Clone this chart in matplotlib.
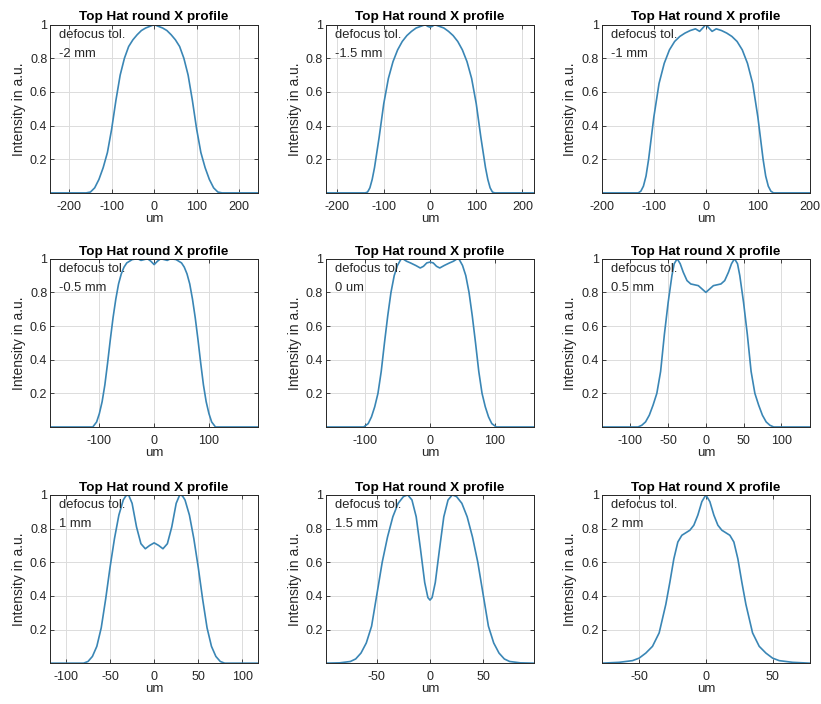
import numpy as np
import matplotlib.pyplot as plt

plt.rcParams['font.family'] = ['Liberation Sans', 'DejaVu Sans']
plt.rcParams['axes.unicode_minus'] = False

# profiles (um, normalised intensity)
x_m2 = [-245, -160, -150, -140, -130, -120, -110, -100, -90, -80, -70, -60, -50, -40, -30, -20, -10, -5, 0,
        5, 10, 20, 30, 40, 50, 60, 70, 80, 90, 100, 110, 120, 130, 140, 150, 160, 245]
y_m2 = [0, 0, 0.005, 0.03, 0.08, 0.15, 0.24, 0.38, 0.55, 0.70, 0.80, 0.87, 0.91, 0.94, 0.965, 0.98, 0.99, 0.995, 1.0,
        0.995, 0.99, 0.98, 0.965, 0.94, 0.91, 0.87, 0.80, 0.70, 0.55, 0.38, 0.24, 0.15, 0.08, 0.03, 0.005, 0, 0]

x_m15 = [-225, -140, -135, -130, -125, -120, -110, -100, -90, -80, -70, -60, -50, -40, -30, -20, -10, -5, 0,
         5, 10, 20, 30, 40, 50, 60, 70, 80, 90, 100, 110, 120, 125, 130, 135, 140, 225]
y_m15 = [0, 0, 0.005, 0.03, 0.08, 0.15, 0.33, 0.53, 0.68, 0.78, 0.85, 0.90, 0.935, 0.96, 0.98, 0.99, 1.0, 0.99, 0.985,
         0.99, 1.0, 0.99, 0.98, 0.96, 0.935, 0.90, 0.85, 0.78, 0.68, 0.53, 0.33, 0.15, 0.08, 0.03, 0.005, 0, 0]

x_m1 = [-200, -130, -125, -120, -115, -110, -100, -90, -80, -70, -60, -50, -40, -30, -20, -12, -6, 0,
        6, 12, 20, 30, 40, 50, 60, 70, 80, 90, 100, 110, 115, 120, 125, 130, 200]
y_m1 = [0, 0, 0.01, 0.04, 0.1, 0.2, 0.45, 0.65, 0.77, 0.85, 0.90, 0.93, 0.95, 0.965, 0.975, 0.96, 0.98, 1.0,
        0.98, 0.96, 0.975, 0.965, 0.95, 0.93, 0.90, 0.85, 0.77, 0.65, 0.45, 0.2, 0.1, 0.04, 0.01, 0, 0]

x_m05 = [-190, -112, -105, -100, -95, -90, -85, -80, -75, -70, -65, -60, -55, -50, -40, -30, -24, -18, -12, -6, 0,
         6, 12, 18, 24, 30, 40, 50, 55, 60, 65, 70, 75, 80, 85, 90, 95, 100, 105, 112, 190]
y_m05 = [0, 0, 0.03, 0.08, 0.15, 0.25, 0.38, 0.52, 0.65, 0.76, 0.85, 0.91, 0.95, 0.975, 0.995, 1.0, 0.99, 0.995, 1.0, 0.985, 0.965,
         0.985, 1.0, 0.995, 0.99, 1.0, 0.995, 0.975, 0.95, 0.91, 0.85, 0.76, 0.65, 0.52, 0.38, 0.25, 0.15, 0.08, 0.03, 0, 0]

x_0 = [-160, -102, -95, -90, -85, -80, -75, -70, -65, -60, -55, -50, -45, -42, -36, -30, -22, -15, -10, -5, 0,
       5, 10, 15, 22, 30, 36, 42, 45, 50, 55, 60, 65, 70, 75, 80, 85, 90, 95, 102, 160]
y_0 = [0, 0, 0.02, 0.06, 0.12, 0.2, 0.33, 0.5, 0.66, 0.8, 0.9, 0.96, 0.995, 1.0, 0.985, 0.975, 0.96, 0.945, 0.955, 0.975, 0.98,
       0.975, 0.955, 0.945, 0.96, 0.975, 0.985, 1.0, 0.995, 0.96, 0.9, 0.8, 0.66, 0.5, 0.33, 0.2, 0.12, 0.06, 0.02, 0, 0]

x_p05 = [-138, -90, -85, -80, -75, -70, -65, -60, -55, -50, -45, -42, -38, -34, -30, -25, -20, -15, -10, -5, 0,
         5, 10, 15, 20, 25, 30, 34, 38, 42, 45, 50, 55, 60, 65, 70, 75, 80, 85, 90, 138]
y_p05 = [0, 0, 0.01, 0.03, 0.07, 0.13, 0.2, 0.33, 0.55, 0.74, 0.9, 0.97, 1.0, 0.97, 0.92, 0.87, 0.85, 0.845, 0.84, 0.82, 0.80,
         0.82, 0.84, 0.845, 0.85, 0.87, 0.92, 0.97, 1.0, 0.97, 0.9, 0.74, 0.55, 0.33, 0.2, 0.13, 0.07, 0.03, 0.01, 0, 0]

x_p1 = [-118, -80, -75, -70, -65, -60, -55, -50, -45, -40, -35, -32, -29, -25, -20, -15, -10, -5, 0,
        5, 10, 15, 20, 25, 29, 32, 35, 40, 45, 50, 55, 60, 65, 70, 75, 80, 118]
y_p1 = [0, 0, 0.01, 0.04, 0.1, 0.21, 0.38, 0.57, 0.74, 0.88, 0.97, 0.995, 1.0, 0.95, 0.81, 0.71, 0.68, 0.70, 0.715,
        0.70, 0.68, 0.71, 0.81, 0.95, 1.0, 0.995, 0.97, 0.88, 0.74, 0.57, 0.38, 0.21, 0.1, 0.04, 0.01, 0, 0]

x_p15 = [-98, -85, -75, -70, -65, -60, -55, -50, -45, -40, -35, -30, -25, -21, -17, -13, -9, -5, -2, 0,
         2, 5, 9, 13, 17, 21, 25, 30, 35, 40, 45, 50, 55, 60, 65, 70, 75, 85, 98]
y_p15 = [0, 0.002, 0.01, 0.025, 0.06, 0.12, 0.22, 0.41, 0.6, 0.75, 0.87, 0.95, 0.99, 1.0, 0.97, 0.87, 0.68, 0.48, 0.39, 0.375,
         0.39, 0.48, 0.68, 0.87, 0.97, 1.0, 0.99, 0.95, 0.87, 0.75, 0.6, 0.41, 0.22, 0.12, 0.06, 0.025, 0.01, 0.002, 0]

x_p2 = [-78, -65, -55, -50, -45, -40, -35, -30, -27, -24, -21, -18, -15, -12, -9, -6, -3, 0,
        3, 6, 9, 12, 15, 18, 21, 24, 27, 30, 35, 40, 45, 50, 55, 65, 78]
y_p2 = [0, 0.005, 0.015, 0.03, 0.06, 0.1, 0.18, 0.35, 0.48, 0.62, 0.72, 0.76, 0.775, 0.79, 0.82, 0.88, 0.96, 1.0,
        0.96, 0.88, 0.82, 0.79, 0.775, 0.76, 0.72, 0.62, 0.48, 0.35, 0.18, 0.1, 0.06, 0.03, 0.015, 0.005, 0]

labels = ['-2 mm', '-1.5 mm', '-1 mm', '-0.5 mm', '0 um', '0.5 mm', '1 mm', '1.5 mm', '2 mm']
xs = [x_m2, x_m15, x_m1, x_m05, x_0, x_p05, x_p1, x_p15, x_p2]
ys = [y_m2, y_m15, y_m1, y_m05, y_0, y_p05, y_p1, y_p15, y_p2]
xlims = [245, 225, 200, 190, 160, 138, 118, 98, 78]
xticks = [[-200, -100, 0, 100, 200], [-200, -100, 0, 100, 200], [-200, -100, 0, 100, 200],
          [-100, 0, 100], [-100, 0, 100], [-100, -50, 0, 50, 100], [-100, -50, 0, 50, 100],
          [-50, 0, 50], [-50, 0, 50]]

fig = plt.figure(figsize=(8.21, 7.04), dpi=100)
lefts = [0.061, 0.397, 0.733]
bottoms = [0.726, 0.3935, 0.058]
dark = '#262626'

for i in range(9):
    r, c = divmod(i, 3)
    ax = fig.add_axes([lefts[c], bottoms[r], 0.2535, 0.239])
    ax.plot(xs[i], ys[i], color='#3a86b5', lw=1.2)
    ax.set_xlim(-xlims[i], xlims[i])
    ax.set_ylim(0, 1)
    ax.set_xticks(xticks[i])
    ax.set_yticks([0.2, 0.4, 0.6, 0.8, 1])
    ax.set_yticklabels(['0.2', '0.4', '0.6', '0.8', '1'])
    ax.grid(True, color='#dcdcdc', lw=0.7)
    ax.tick_params(direction='in', top=True, right=True, length=3, width=0.6,
                   labelsize=9, colors=dark)
    ax.tick_params(axis='x', pad=5.5)
    ax.tick_params(axis='y', pad=2)
    for s in ax.spines.values():
        s.set_color(dark)
        s.set_linewidth(0.7)
    ax.set_title('Top Hat round X profile', fontsize=9.7, fontweight='bold', pad=3)
    ax.set_xlabel('um', fontsize=9.5, color=dark, labelpad=0)
    ax.set_ylabel('Intensity in a.u.', fontsize=10, color=dark, labelpad=3)
    ax.text(0.045, 0.975, 'defocus tol.\n' + labels[i], transform=ax.transAxes,
            va='top', ha='left', fontsize=9.4, color=dark, linespacing=1.8)

plt.savefig('out.png', dpi=100)
